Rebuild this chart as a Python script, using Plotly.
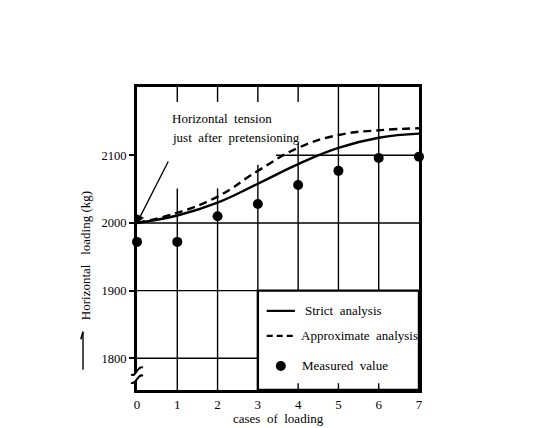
import plotly.graph_objects as go

# ---- data ----
cases = [0, 1, 2, 3, 4, 5, 6, 7]
strict = [2000, 2011, 2030, 2058, 2087, 2111, 2126, 2132]
approx = [2000, 2015, 2039, 2077, 2111, 2130, 2137, 2140]
measured = [1972, 1972, 2010, 2028, 2056, 2077, 2096, 2098]
y_ticks = [1800, 1900, 2000, 2100]
x_ticks = [0, 1, 2, 3, 4, 5, 6, 7]

FONT = "Liberation Serif"
YMIN, YMAX = 1753, 2201

fig = go.Figure()
fig.add_trace(go.Scatter(x=cases, y=strict, mode="lines", line=dict(color="black", width=2.4, shape="spline", smoothing=1.3),
                         showlegend=False, cliponaxis=False))
fig.add_trace(go.Scatter(x=cases, y=approx, mode="lines", line=dict(color="black", width=2.4, shape="spline", smoothing=1.3, dash="8px,5px"),
                         showlegend=False, cliponaxis=False))
fig.add_trace(go.Scatter(x=cases, y=measured, mode="markers", marker=dict(color="black", size=10),
                         showlegend=False, cliponaxis=False))
# legend dot
fig.add_trace(go.Scatter(x=[3.57], y=[1788.6], mode="markers", marker=dict(color="black", size=10),
                         showlegend=False, cliponaxis=False))

shapes = []
def ln(x0, y0, x1, y1, w=1.4, dash=None, xref="x", yref="y"):
    d = dict(type="line", x0=x0, y0=y0, x1=x1, y1=y1, xref=xref, yref=yref,
             line=dict(color="black", width=w), layer="above")
    if dash:
        d["line"]["dash"] = dash
    shapes.append(d)

# vertical grid lines
ln(1, YMIN, 1, 2051)
ln(2, YMIN, 2, 2051)
ln(3, YMIN, 3, 2086)
ln(4, 1900, 4, 2118)
ln(5, 1900, 5, YMAX)
ln(6, 1900, 6, YMAX)
# top ticks
for xv in [1, 2, 3, 4]:
    ln(xv, 2179, xv, YMAX)
# bottom ticks inside legend
for xv in [4, 5, 6]:
    ln(xv, YMIN, xv, 1763)
# horizontal grid lines
ln(3.45, 2100, 7, 2100)
ln(0, 2000, 7, 2000)
ln(0, 1900, 3, 1900)
ln(0, 1800, 3, 1800)
# legend box
shapes.append(dict(type="rect", x0=3, y0=YMIN, x1=7, y1=1900, xref="x", yref="y",
                   line=dict(color="black", width=2.4), layer="above"))
# legend samples
ln(3.22, 1870, 3.92, 1870, w=2.2)
ln(3.22, 1833, 3.87, 1833, w=2.2, dash="6px,4px")
# axis break mark (paper x so it is not clipped)
c1, c2 = 1781, 1769
dx = 0.021
shapes.append(dict(type="path", xref="paper", yref="y", layer="above",
                   path=f"M {-dx},{c1-5} C -0.003,{c1-10} 0.003,{c1+10} {dx},{c1+5} L {dx},{c2+5} C 0.003,{c2+10} -0.003,{c2-10} {-dx},{c2-5} Z",
                   fillcolor="white", line=dict(width=0)))
for c in (c1, c2):
    shapes.append(dict(type="path", xref="paper", yref="y", layer="above",
                       path=f"M {-dx},{c-5} C -0.003,{c-10} 0.003,{c+10} {dx},{c+5}",
                       line=dict(color="black", width=2)))
# y title arrow
ln(-0.1915, 1783, -0.1915, 1839, w=1.4, xref="paper")
ln(-0.1915, 1839, -0.199, 1828, w=1.6, xref="paper")

fig.update_layout(shapes=shapes)

ann = []
tf = dict(family=FONT, size=13, color="black")
ann.append(dict(x=0.82, y=2155, xref="x", yref="y", text="Horizontal  tension", showarrow=False,
                xanchor="left", yanchor="middle", font=tf))
ann.append(dict(x=0.82, y=2127, xref="x", yref="y", text="just  after  pretensioning", showarrow=False,
                xanchor="left", yanchor="middle", font=tf))
ann.append(dict(x=0, y=2000, xref="x", yref="y", ax=32, ay=-63, text="", showarrow=True,
                arrowhead=2, arrowsize=1.2, arrowwidth=1.3, arrowcolor="black", standoff=0))
ann.append(dict(x=4.12, y=1870, xref="x", yref="y", text="Strict  analysis", showarrow=False,
                xanchor="left", yanchor="middle", font=tf))
ann.append(dict(x=4.03, y=1833, xref="x", yref="y", text="Approximate  analysis", showarrow=False,
                xanchor="left", yanchor="middle", font=tf))
ann.append(dict(x=4.05, y=1788.6, xref="x", yref="y", text="Measured  value", showarrow=False,
                xanchor="left", yanchor="middle", font=tf))
ann.append(dict(x=-0.184, y=1951, xref="paper", yref="y", text="Horizontal   loading (kg)", showarrow=False,
                textangle=-90, xanchor="center", yanchor="middle", font=tf))
ann.append(dict(x=0.5, y=-0.095, xref="paper", yref="paper", text="cases  of  loading", showarrow=False,
                xanchor="center", yanchor="middle", font=tf))
fig.update_layout(annotations=ann)

fig.update_layout(
    width=543, height=428,
    margin=dict(l=137, r=124, t=87, b=38),
    paper_bgcolor="white", plot_bgcolor="white",
    font=dict(family=FONT, size=12, color="black"),
    xaxis=dict(range=[0, 7], tickvals=x_ticks, ticktext=[str(v) for v in x_ticks],
               showgrid=False, zeroline=False, showline=True, linecolor="black", linewidth=3,
               mirror=True, ticks="", tickfont=dict(family=FONT, size=13, color="black")),
    yaxis=dict(range=[YMIN, YMAX], tickvals=y_ticks, ticktext=[str(v) for v in y_ticks],
               showgrid=False, zeroline=False, showline=True, linecolor="black", linewidth=3,
               mirror=True, ticks="outside", ticklen=5, tickwidth=1.5, tickcolor="black",
               tickfont=dict(family=FONT, size=12.5, color="black")),
)

fig.write_html("out.html")
